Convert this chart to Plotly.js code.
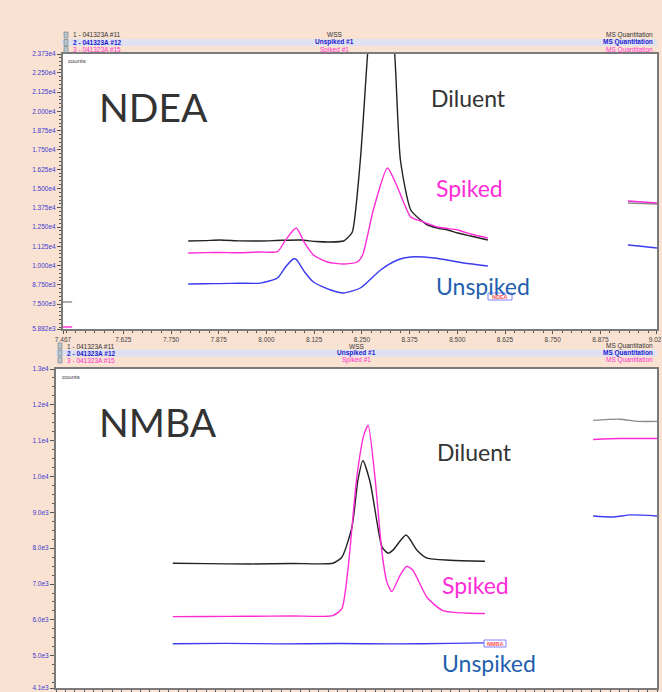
<!DOCTYPE html>
<html><head><meta charset="utf-8">
<script src="https://cdn.plot.ly/plotly-3.0.1.min.js"></script>
<style>html,body{margin:0;padding:0;background:#fae2d3;}#chart{width:662px;height:692px;}</style>
</head><body><div id="chart"></div>
<script>
// ---------- NDEA panel (top) ----------
const ndeaDiluentT = [7.795, 7.840, 7.879, 7.930, 7.984, 8.040, 8.089, 8.130, 8.168, 8.202, 8.212, 8.225, 8.246, 8.265, 8.280, 8.300, 8.320, 8.336, 8.351, 8.378, 8.404, 8.422, 8.448, 8.475, 8.501, 8.535, 8.580];
const ndeaDiluentY = [11594, 11620, 11659, 11600, 11594, 11640, 11659, 11560, 11529, 11594, 11788, 12178, 16851, 23730, 28000, 30000, 27500, 23730, 16851, 13606, 12957, 12632, 12437, 12308, 12113, 11918, 11659];
const ndeaSpikedT = [7.795, 7.840, 7.879, 7.930, 7.984, 8.029, 8.050, 8.078, 8.100, 8.123, 8.160, 8.202, 8.238, 8.252, 8.280, 8.317, 8.343, 8.378, 8.404, 8.448, 8.501, 8.535, 8.580];
const ndeaSpikedY = [10815, 10840, 10850, 10830, 10880, 10900, 11659, 12437, 11464, 10685, 10231, 10101, 10231, 10685, 13606, 16331, 15098, 13151, 12892, 12502, 12308, 12048, 11788];
const ndeaUnspikedT = [7.795, 7.840, 7.879, 7.930, 7.984, 8.029, 8.050, 8.070, 8.078, 8.100, 8.123, 8.168, 8.202, 8.246, 8.299, 8.343, 8.378, 8.440, 8.517, 8.580];
const ndeaUnspikedY = [8803, 8820, 8830, 8850, 8860, 9192, 9906, 10425, 10400, 9582, 8933, 8414, 8219, 8543, 9712, 10361, 10555, 10490, 10166, 9971];
// partial traces visible at the panel edges
const ndeaEdgeGrayT = [7.467, 7.491, null, 8.947, 9.023];
const ndeaEdgeGrayY = [7635, 7635, null, 14060, 13995];
const ndeaEdgeSpikedT = [7.467, 7.491, null, 8.947, 9.023];
const ndeaEdgeSpikedY = [6012, 6012, null, 14190, 14060];
const ndeaEdgeUnspikedT = [8.947, 8.975, 9.023];
const ndeaEdgeUnspikedY = [11334, 11270, 11139];
const ndeaXTicks = [7.467, 7.625, 7.750, 7.875, 8.000, 8.125, 8.250, 8.375, 8.500, 8.625, 8.750, 8.875, 9.023];
const ndeaXTickText = ["7.467", "7.625", "7.750", "7.875", "8.000", "8.125", "8.250", "8.375", "8.500", "8.625", "8.750", "8.875", "9.023"];
const ndeaYTicks = [5882, 7500, 8750, 10000, 11250, 12500, 13750, 15000, 16250, 17500, 18750, 20000, 21250, 22500, 23730];
const ndeaYTickText = ["5.882e3", "7.500e3", "8.750e3", "1.000e4", "1.125e4", "1.250e4", "1.375e4", "1.500e4", "1.625e4", "1.750e4", "1.875e4", "2.000e4", "2.125e4", "2.250e4", "2.373e4"];

// ---------- NMBA panel (bottom) ----------
const nmbaDiluentT = [7.711, 7.800, 7.916, 8.030, 8.137, 8.161, 8.188, 8.204, 8.217, 8.236, 8.255, 8.268, 8.284, 8.297, 8.332, 8.361, 8.388, 8.449, 8.542];
const nmbaDiluentY = [7581, 7570, 7560, 7575, 7581, 7749, 8591, 9911, 10445, 9855, 8704, 8030, 7861, 7946, 8367, 7946, 7721, 7665, 7637];
const nmbaSpikedT = [7.711, 7.800, 7.916, 8.030, 8.137, 8.161, 8.177, 8.201, 8.220, 8.231, 8.249, 8.268, 8.281, 8.294, 8.316, 8.334, 8.350, 8.388, 8.430, 8.542];
const nmbaSpikedY = [6092, 6095, 6100, 6110, 6120, 6317, 7384, 9995, 11175, 11428, 9995, 7861, 7047, 6794, 7244, 7496, 7384, 6626, 6261, 6177];
const nmbaUnspikedT = [7.711, 7.850, 8.000, 8.150, 8.300, 8.450, 8.542];
const nmbaUnspikedY = [5334, 5345, 5330, 5340, 5330, 5345, 5360];
const nmbaEdgeGrayT = [8.830, 8.900, 8.950, 9.000];
const nmbaEdgeGrayY = [11568, 11600, 11540, 11540];
const nmbaEdgeSpikedT = [8.830, 8.900, 9.000];
const nmbaEdgeSpikedY = [11034, 11060, 11060];
const nmbaEdgeUnspikedT = [8.830, 8.880, 8.930, 9.000];
const nmbaEdgeUnspikedY = [8900, 8870, 8930, 8900];
const nmbaYTicks = [4100, 5000, 6000, 7000, 8000, 9000, 10000, 11000, 12000, 13000];
const nmbaYTickText = ["4.1e3", "5.0e3", "6.0e3", "7.0e3", "8.0e3", "9.0e3", "1.0e4", "1.1e4", "1.2e4", "1.3e4"];

// header rows
const sampleLabels = ["1 - 041323A #11", "2 - 041323A #12", "3 - 041323A #15"];
const sampleNames = ["WSS", "Unspiked #1", "Spiked #1"];
const methodLabel = "MS Quantitation";

const W = 662, H = 692;
const PX = x => x / W, PY = y => 1 - y / H;
const C_BLACK = '#222222', C_MAG = '#ff2bd6', C_BLUE = '#3a3af0', C_GRAY = '#8a8a8a';
const headColors = ['#333333', '#2020d0', '#ff33cc'];

function line(x, y, color, xa, ya, w) {
  return {x, y, type: 'scatter', mode: 'lines', xaxis: xa, yaxis: ya,
    line: {color, width: w || 1.4, shape: 'spline', smoothing: 0.6}, connectgaps: false, hoverinfo: 'skip'};
}
const traces = [
  line(ndeaDiluentT, ndeaDiluentY, C_BLACK, 'x', 'y'),
  line(ndeaSpikedT, ndeaSpikedY, C_MAG, 'x', 'y'),
  line(ndeaUnspikedT, ndeaUnspikedY, C_BLUE, 'x', 'y'),
  line(ndeaEdgeGrayT, ndeaEdgeGrayY, C_GRAY, 'x', 'y'),
  line(ndeaEdgeSpikedT, ndeaEdgeSpikedY, C_MAG, 'x', 'y'),
  line(ndeaEdgeUnspikedT, ndeaEdgeUnspikedY, C_BLUE, 'x', 'y'),
  line(nmbaDiluentT, nmbaDiluentY, C_BLACK, 'x2', 'y2'),
  line(nmbaSpikedT, nmbaSpikedY, C_MAG, 'x2', 'y2'),
  line(nmbaUnspikedT, nmbaUnspikedY, C_BLUE, 'x2', 'y2'),
  line(nmbaEdgeGrayT, nmbaEdgeGrayY, C_GRAY, 'x2', 'y2'),
  line(nmbaEdgeSpikedT, nmbaEdgeSpikedY, C_MAG, 'x2', 'y2'),
  line(nmbaEdgeUnspikedT, nmbaEdgeUnspikedY, C_BLUE, 'x2', 'y2')
];

const tickFontY = {family: 'Liberation Sans, Arial', size: 6.5, color: '#3b3bd0'};
const tickFontX = {family: 'Liberation Sans, Arial', size: 6.5, color: '#444'};
const axisCommon = {showgrid: false, zeroline: false, showline: true, linecolor: '#7a7a7a', linewidth: 2, mirror: true,
  ticks: 'outside', ticklen: 4, tickcolor: '#555', tickwidth: 1, fixedrange: true, ticklabeloverflow: 'allow'};

const annotations = [];
const shapes = [];
function txt(x, y, text, size, color, anchor, family, extra) {
  annotations.push(Object.assign({xref: 'paper', yref: 'paper', x: PX(x), y: PY(y), text, showarrow: false,
    xanchor: anchor || 'left', yanchor: 'middle', font: {family: family || 'Liberation Sans, Arial', size, color}}, extra || {}));
}
function header(rowsY, left, right, center) {
  shapes.push({type: 'rect', xref: 'paper', yref: 'paper', x0: PX(left), x1: PX(right), y0: PY(rowsY[1] + 3.5), y1: PY(rowsY[1] - 3.5),
    fillcolor: '#dfe1f1', line: {width: 0}, layer: 'below'});
  rowsY.forEach((ry, i) => {
    shapes.push({type: 'rect', xref: 'paper', yref: 'paper', x0: PX(left + 2), x1: PX(left + 6), y0: PY(ry + 3), y1: PY(ry - 3),
      fillcolor: '#b8c4cc', line: {color: '#6f7f88', width: 0.6}});
    const bold = i === 1;
    const b = s => bold ? '<b>' + s + '</b>' : s;
    txt(left + 9, ry, b(sampleLabels[i]), 6.5, headColors[i], 'left');
    txt(center, ry, b(sampleNames[i]), 6.5, headColors[i], 'center');
    txt(right - 2, ry, b(methodLabel), 6.5, headColors[i], 'right');
  });
}
header([35, 42.5, 49.5], 62, 657, 335);
header([346, 353, 360], 56, 657, 356);

txt(66, 61, 'counts', 6, '#333');
txt(60, 377, 'counts', 6, '#333');

const big = 'Lato, Open Sans, sans-serif';
txt(97, 107, 'NDEA', 39, '#333333', 'left', big);
txt(429, 98, 'Diluent', 23, '#333333', 'left', big);
txt(434, 188, 'Spiked', 23, '#ff2bd6', 'left', big);
txt(434, 286, 'Unspiked', 23, '#1f5fae', 'left', big);
txt(97, 422, 'NMBA', 39, '#333333', 'left', big);
txt(435, 452, 'Diluent', 23, '#333333', 'left', big);
txt(440, 585, 'Spiked', 23, '#ff2bd6', 'left', big);
txt(440, 663, 'Unspiked', 23, '#1f5fae', 'left', big);

function tag(x0, x1, y0, y1, label) {
  shapes.push({type: 'rect', xref: 'paper', yref: 'paper', x0: PX(x0), x1: PX(x1), y0: PY(y1), y1: PY(y0),
    fillcolor: '#ffffff', line: {color: '#8080ff', width: 1}});
  txt((x0 + x1) / 2, (y0 + y1) / 2, label, 5.5, '#ff5050', 'center', 'Liberation Sans, Arial', {});
}
tag(488, 512, 293, 300, '<b>NDEA</b>');
tag(484, 506, 640, 647, '<b>NMBA</b>');

const layout = {
  width: W, height: H, margin: {l: 0, r: 0, t: 0, b: 0},
  paper_bgcolor: '#fae2d3', plot_bgcolor: '#ffffff', showlegend: false,
  xaxis: Object.assign({}, axisCommon, {domain: [PX(63), PX(657)], range: [7.467, 9.0232], anchor: 'y',
    ticklen: 3, tickmode: 'array', tickvals: ndeaXTicks, ticktext: ndeaXTickText, tickfont: tickFontX,
    minor: {ticks: 'outside', ticklen: 2, tickcolor: '#555', dtick: 0.025, tick0: 7.5}}),
  yaxis: Object.assign({}, axisCommon, {domain: [PY(329), PY(54)], range: [5882, 23730], anchor: 'x',
    tickmode: 'array', tickvals: ndeaYTicks, ticktext: ndeaYTickText, tickfont: tickFontY,
    minor: {ticks: 'outside', ticklen: 2, tickcolor: '#555', dtick: 250, tick0: 0}}),
  xaxis2: Object.assign({}, axisCommon, {domain: [PX(56), PX(657)], range: [7.4, 9.0], anchor: 'y2',
    showticklabels: false, dtick: 0.125, tick0: 7.5,
    minor: {ticks: 'outside', ticklen: 2, tickcolor: '#555', dtick: 0.025, tick0: 7.5}}),
  yaxis2: Object.assign({}, axisCommon, {domain: [PY(688), PY(369)], range: [4100, 13000], anchor: 'x2',
    tickmode: 'array', tickvals: nmbaYTicks, ticktext: nmbaYTickText, tickfont: tickFontY,
    minor: {ticks: 'outside', ticklen: 2, tickcolor: '#555', dtick: 250, tick0: 0}}),
  annotations, shapes
};
Plotly.newPlot('chart', traces, layout, {staticPlot: true, displayModeBar: false});
</script>
</body></html>
